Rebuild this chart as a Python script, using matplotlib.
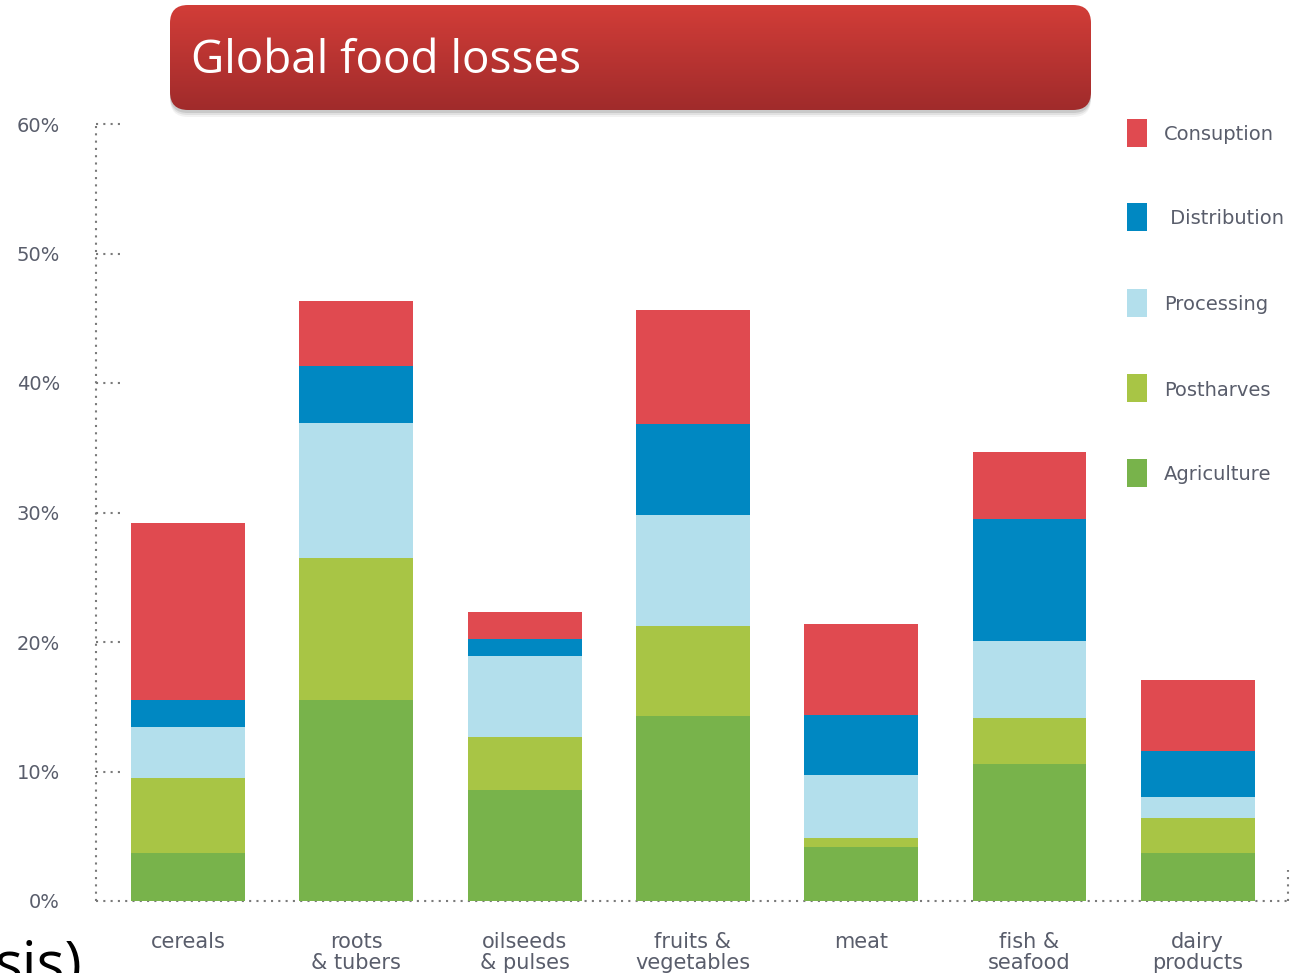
import numpy as np
import matplotlib
matplotlib.use("Agg")
import matplotlib.pyplot as plt
from matplotlib.patches import FancyBboxPatch, Rectangle

# ---- data ----
categories = ["cereals", "roots\n& tubers", "oilseeds\n& pulses", "fruits &\nvegetables",
              "meat", "fish &\nseafood", "dairy\nproducts"]
agriculture = [3.7, 15.5, 8.6, 14.3, 4.2, 10.6, 3.7]
postharvest = [5.8, 11.0, 4.1, 6.9, 0.7, 3.5, 2.7]
processing = [3.9, 10.4, 6.2, 8.6, 4.8, 6.0, 1.6]
distribution = [2.1, 4.4, 1.3, 7.0, 4.7, 9.4, 3.6]
consumption = [13.7, 5.0, 2.1, 8.8, 7.0, 5.2, 5.5]
series_names = ["Agriculture", "Postharves", "Processing", " Distribution", "Consuption"]
series_values = [agriculture, postharvest, processing, distribution, consumption]
series_colors = ["#78b34b", "#a8c545", "#b3dfec", "#0088c2", "#e04a50"]
yticks = [0, 10, 20, 30, 40, 50, 60]
ytick_labels = ["0%", "10%", "20%", "30%", "40%", "50%", "60%"]

W, H = 1290, 973
fig = plt.figure(figsize=(W / 100, H / 100), dpi=100)
fig.patch.set_facecolor("white")

# overlay axes in pixel coordinates for decorations
ov = fig.add_axes([0, 0, 1, 1], zorder=0)
ov.set_xlim(0, W)
ov.set_ylim(H, 0)
ov.axis("off")

txtcol = "#595d6b"
lblfont = "DejaVu Sans"

# main chart axes
ax = fig.add_axes([96 / W, (H - 901) / H, 1 - 96 / W, (901 - 124) / H], zorder=1)
ax.patch.set_alpha(0)
x = np.arange(len(categories))
ax.set_xlim(-0.547, 6.548)
ax.set_ylim(0, 60)
bottom = np.zeros(len(categories))
for name, vals, col in zip(series_names, series_values, series_colors):
    ax.bar(x, vals, width=0.677, bottom=bottom, color=col, zorder=3, linewidth=0)
    bottom += np.array(vals)

for s in ax.spines.values():
    s.set_visible(False)
dotcol = "#7a7a7a"
ax.plot([0, 0], [0, 1], transform=ax.transAxes, color=dotcol, ls=(0, (1, 2.5)), lw=1.5, clip_on=False, zorder=2)
ax.plot([0, 1], [0, 0], transform=ax.transAxes, color=dotcol, ls=(0, (1, 2.5)), lw=1.5, clip_on=False, zorder=2)
ax.plot([0.9985, 0.9985], [0, 0.04], transform=ax.transAxes, color=dotcol, ls=(0, (1, 2.5)), lw=1.5, clip_on=False, zorder=2)
for t in yticks[1:]:
    ax.plot([-0.547, -0.547 + 0.16], [t, t], color=dotcol, ls=(0, (1, 2.5)), lw=1.5, zorder=2, clip_on=False)

ax.set_yticks(yticks)
ax.set_yticklabels(ytick_labels)
ax.tick_params(axis="y", length=0, pad=26, labelsize=14, labelcolor=txtcol)
ax.set_xticks(x)
ax.set_xticklabels(categories, linespacing=1.1)
ax.tick_params(axis="x", length=0, pad=22, labelsize=15, labelcolor=txtcol)
for lab in ax.get_xticklabels() + ax.get_yticklabels():
    lab.set_fontfamily(lblfont)

# legend (manual)
leg_y = [133, 217, 303, 388, 473]
for (name, col), yy in zip(zip(series_names[::-1], series_colors[::-1]), leg_y):
    ov.add_patch(Rectangle((1127, yy - 14), 20, 28, color=col, lw=0))
    ov.text(1164, yy + 2, name, va="center", ha="left", fontsize=14, color=txtcol,
            family=lblfont)

# title banner with shadow and gradient
for off, a in [(7, 0.05), (5, 0.07), (3, 0.10)]:
    sh = FancyBboxPatch((170 + 18, 5 + 18 + off), 921 - 36, 105 - 36,
                        boxstyle="round,pad=18", fc="black", ec="none", alpha=a)
    ov.add_patch(sh)
banner = FancyBboxPatch((170 + 18, 5 + 18), 921 - 36, 105 - 36,
                        boxstyle="round,pad=18", fc="none", ec="none")
ov.add_patch(banner)
top = np.array([0xd2, 0x3d, 0x38]) / 255
bot = np.array([0xa0, 0x2b, 0x2b]) / 255
tt = np.linspace(0, 1, 256)[:, None]
grad = (top[None, :] * (1 - tt) + bot[None, :] * tt)[:, None, :]
im = ov.imshow(grad, extent=[170, 1091, 110, 5], aspect="auto", zorder=2, interpolation="bilinear")
im.set_clip_path(banner)
ov.set_xlim(0, W)
ov.set_ylim(H, 0)
ov.text(191, 61, "Global food losses", color="white", fontsize=33, va="center", ha="left",
        family="Open Sans", zorder=3)

# cropped slide text at bottom-left
ov.text(-6, 983, "sis)", color="black", fontsize=42, va="baseline", ha="left", family="Open Sans")

fig.savefig("out.png", dpi=100)
